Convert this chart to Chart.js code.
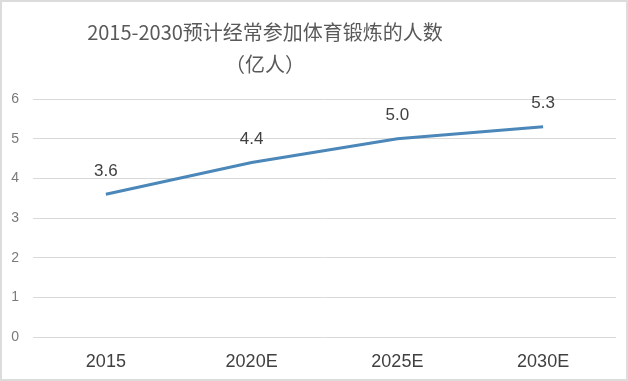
<!DOCTYPE html>
<html>
<head>
<meta charset="utf-8">
<script src="https://cdn.jsdelivr.net/npm/chart.js@4/dist/chart.umd.min.js"></script>
<style>
  html, body { margin: 0; padding: 0; background: #fff; }
  #wrap { position: relative; width: 628px; height: 381px; overflow: hidden; }
  #c { position: absolute; left: 0; top: 0; }
  #title { position: absolute; left: 0; top: 16px; width: 530px; text-align: center;
    font-family: "Noto Sans CJK SC", "Noto Sans", sans-serif; font-size: 20px; line-height: 32px; color: #595959; }
  #frame { position: absolute; left: 0; top: 0; width: 624px; height: 377px; border: 2px solid #dcdcdc; pointer-events: none; }
</style>
</head>
<body>
<div id="wrap">
  <canvas id="c" width="628" height="381"></canvas>
  <div id="title">2015-2030预计经常参加体育锻炼的人数<br>（亿人）</div>
  <div id="frame"></div>
</div>
<script>
const categories = ["2015", "2020E", "2025E", "2030E"];
const values = [3.6, 4.4, 5.0, 5.3];
const valueLabels = ["3.6", "4.4", "5.0", "5.3"];
const yTicks = [0, 1, 2, 3, 4, 5, 6];

const labelPlugin = {
  id: 'pointLabels',
  afterDatasetsDraw(chart) {
    const ctx = chart.ctx;
    const meta = chart.getDatasetMeta(0);
    ctx.save();
    ctx.font = '17px "Liberation Sans", Arial, sans-serif';
    ctx.fillStyle = '#404040';
    ctx.textAlign = 'center';
    ctx.textBaseline = 'middle';
    meta.data.forEach((pt, i) => {
      ctx.fillText(valueLabels[i], pt.x, pt.y - 23);
    });
    ctx.restore();
  }
};

new Chart(document.getElementById('c'), {
  type: 'line',
  data: {
    labels: categories,
    datasets: [{
      data: values,
      borderColor: '#4b87b9',
      borderWidth: 3,
      pointRadius: 0,
      tension: 0,
      fill: false
    }]
  },
  options: {
    responsive: false,
    animation: false,
    layout: { padding: { top: 99, right: 12, left: 0, bottom: 0 } },
    plugins: { legend: { display: false }, title: { display: false }, tooltip: { enabled: false } },
    scales: {
      x: {
        offset: true,
        grid: { display: false, drawTicks: false },
        border: { display: false },
        ticks: { color: '#404040', font: { family: '"Liberation Sans", Arial, sans-serif', size: 18 }, padding: 14, maxRotation: 0 },
        afterFit(s) { s.height = 44; }
      },
      y: {
        min: 0, max: 6,
        afterBuildTicks(s) { s.ticks = yTicks.map(v => ({ value: v })); },
        grid: { color: '#d9d9d9', lineWidth: 1, drawTicks: false },
        border: { display: false },
        ticks: { color: '#7a7a7a', font: { family: '"Liberation Sans", Arial, sans-serif', size: 14 }, padding: 14 },
        afterFit(s) { s.width = 33; }
      }
    }
  },
  plugins: [labelPlugin]
});
</script>
</body>
</html>
